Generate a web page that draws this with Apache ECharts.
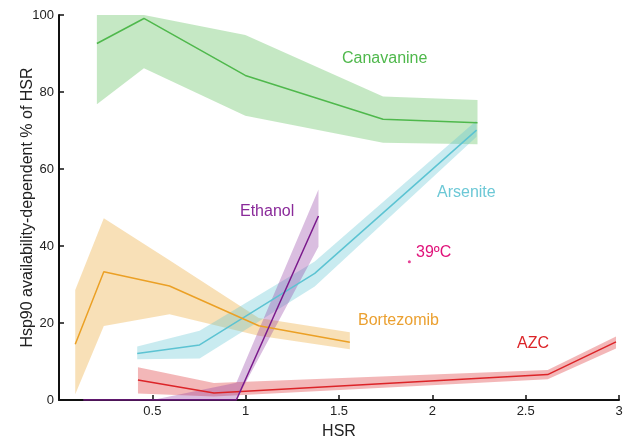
<!DOCTYPE html>
<html>
<head>
<meta charset="utf-8">
<script src="https://cdn.jsdelivr.net/npm/echarts@6/dist/echarts.min.js"></script>
<style>
html,body{margin:0;padding:0;background:#fff;}
#chart{width:628px;height:443px;}
</style>
</head>
<body>
<div id="chart"></div>
<script>
// ---- data ----
const xTicks = [0, 0.5, 1, 1.5, 2, 2.5, 3];
const yTicks = [0, 20, 40, 60, 80, 100];

const canX  = [0.203, 0.455, 0.998, 1.736, 2.242];
const canY  = [92.6, 99.1, 84.3, 72.9, 72.0];
const canHi = [100, 100, 94.8, 78.8, 77.9];
const canLo = [76.8, 86.2, 73.8, 66.8, 66.4];

const arsX  = [0.419, 0.753, 1.37, 2.237];
const arsY  = [12.1, 14.3, 32.9, 70.1];
const arsHi = [13.9, 18.0, 36.0, 72.6];
const arsLo = [10.6, 10.8, 29.5, 68.4];

const ethX  = [0.13, 0.5, 0.95, 1.39];
const ethY  = [0, 0, 0, 47.8];
const ethHi = [0, 0, 4.5, 54.7];
const ethLo = [0, 0, 0, 39.8];

const borX  = [0.087, 0.24, 0.592, 1.07, 1.558];
const borY  = [14.5, 33.3, 29.6, 19.3, 15.0];
const borHi = [28.6, 47.2, 36.3, 21.3, 17.6];
const borLo = [1.5, 19.2, 22.3, 16.7, 13.2];

const azcX  = [0.423, 0.83, 2.618, 2.984];
const azcY  = [5.2, 1.8, 6.6, 15.1];
const azcHi = [8.5, 4.4, 7.8, 16.5];
const azcLo = [1.7, 0.9, 5.4, 13.4];

const heatX = [1.877];
const heatY = [35.9];

// ---- build ----
const FONT = '"Liberation Sans", Arial, sans-serif';
const pairs = (xs, ys) => xs.map((x, i) => [x, ys[i]]);

function bandSeries(xs, hi, lo, color) {
  return {
    type: 'custom', silent: true, z: 1,
    data: xs.map((x, i) => [x, lo[i], hi[i]]),
    encode: { x: 0, y: [1, 2] },
    renderItem: function (params, api) {
      if (params.dataIndex !== 0) return null;
      const pts = [];
      for (let i = 0; i < xs.length; i++) pts.push(api.coord([xs[i], hi[i]]));
      for (let i = xs.length - 1; i >= 0; i--) pts.push(api.coord([xs[i], lo[i]]));
      return {
        type: 'polygon',
        shape: { points: pts },
        style: { fill: color, opacity: 0.33 }
      };
    }
  };
}
function lineSeries(xs, ys, color) {
  return {
    type: 'line', data: pairs(xs, ys), symbol: 'none',
    lineStyle: { color: color, width: 1.5 }, z: 3
  };
}

const C = {
  can: '#4fb84c', ars: '#5cc3d2', eth: '#7a1a8c', bor: '#eba025', azc: '#dc2428', heat: '#e0127a'
};

const series = [
  bandSeries(canX, canHi, canLo, C.can),
  bandSeries(borX, borHi, borLo, C.bor),
  bandSeries(azcX, azcHi, azcLo, C.azc),
  bandSeries(arsX, arsHi, arsLo, C.ars),
  bandSeries(ethX, ethHi, ethLo, '#8e3aa0'),
  lineSeries(canX, canY, C.can),
  lineSeries(arsX, arsY, C.ars),
  lineSeries(borX, borY, C.bor),
  lineSeries(azcX, azcY, C.azc),
  lineSeries(ethX, ethY, C.eth),
  { type: 'scatter', data: pairs(heatX, heatY), symbolSize: 3, itemStyle: { color: C.heat }, z: 4 }
];

function label(text, left, cy, color) {
  return {
    type: 'text', x: left, y: cy, z: 10,
    style: { text: text, fill: color, font: '16px ' + FONT, verticalAlign: 'middle', textVerticalAlign: 'middle' }
  };
}

const chart = echarts.init(document.getElementById('chart'), null, { renderer: 'canvas' });
chart.setOption({
  animation: false,
  backgroundColor: '#fff',
  grid: { left: 59, right: 9, top: 15, bottom: 43, containLabel: false, outerBoundsMode: 'none' },
  xAxis: {
    type: 'value', min: xTicks[0], max: xTicks[xTicks.length - 1], interval: 0.5,
    name: 'HSR', nameLocation: 'middle', nameGap: 24, nameMoveOverlap: false,
    nameTextStyle: { color: '#222', fontSize: 16, fontFamily: FONT },
    axisLine: { show: true, onZero: false, lineStyle: { color: '#111', width: 2 } },
    axisTick: { show: true, inside: true, length: 5, lineStyle: { color: '#111', width: 1.5 } },
    axisLabel: { color: '#222', fontSize: 13, fontFamily: FONT, margin: 5,
      formatter: v => (v === 0 ? '' : String(v)) },
    splitLine: { show: false }
  },
  yAxis: {
    type: 'value', min: yTicks[0], max: yTicks[yTicks.length - 1], interval: 20,
    name: 'Hsp90 availability-dependent % of HSR', nameLocation: 'middle', nameGap: 23, nameMoveOverlap: false,
    nameTextStyle: { color: '#222', fontSize: 16, fontFamily: FONT },
    axisLine: { show: true, lineStyle: { color: '#111', width: 2 } },
    axisTick: { show: true, inside: true, length: 5, lineStyle: { color: '#111', width: 1.5 } },
    axisLabel: { color: '#222', fontSize: 13, fontFamily: FONT, margin: 5 },
    splitLine: { show: false }
  },
  graphic: [
    label('Canavanine', 342, 59, C.can),
    label('Arsenite', 437, 193, '#6cc8d6'),
    label('Ethanol', 240, 212, '#8a2a9a'),
    label('Bortezomib', 358, 321, '#eba030'),
    label('AZC', 517, 344, C.azc),
    label('39ºC', 416, 253, C.heat)
  ],
  series: series
});
</script>
</body>
</html>
